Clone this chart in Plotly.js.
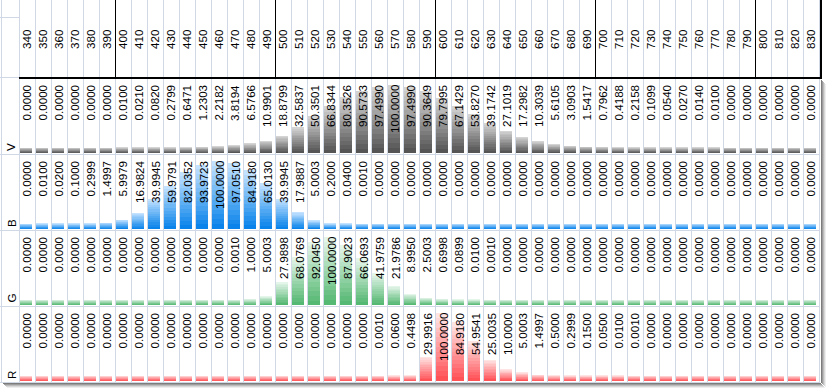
<!DOCTYPE html>
<html><head><meta charset="utf-8">
<script src="https://cdn.plot.ly/plotly-3.0.1.min.js"></script>
<style>html,body{margin:0;padding:0;background:#fff;overflow:hidden}#chart{width:826px;height:388px}</style>
</head><body><div id="chart"></div>
<script>
const wavelengths = [340,350,360,370,380,390,400,410,420,430,440,450,460,470,480,490,500,510,520,530,540,550,560,570,580,590,600,610,620,630,640,650,660,670,680,690,700,710,720,730,740,750,760,770,780,790,800,810,820,830];
const rowLabels = ['V','B','G','R'];
const V = [0,0,0,0,0,0,
  0.0100,0.0210,0.0820,0.2799,0.6471,1.2303,2.2182,3.8194,6.5766,10.9901,
  18.8799,32.5837,50.3501,66.8344,80.3526,90.5733,97.4990,100.0000,97.4990,90.3649,
  79.7995,67.1429,53.8270,39.1742,27.1019,17.2982,10.3039,5.6105,3.0903,1.5417,
  0.7962,0.4188,0.2158,0.1099,0.0540,0.0270,0.0140,0.0100,0,0,
  0,0,0,0];
const B = [0,0.0100,0.0200,0.1000,0.2999,1.4997,
  5.9979,16.9824,39.9945,59.9791,82.0352,93.9723,100.0000,97.0510,84.9180,65.0130,
  39.9945,17.9887,5.0003,0.2000,0.0400,0.0010,0,0,0,0,
  0,0,0,0,0,0,0,0,0,0,
  0,0,0,0,0,0,0,0,0,0,
  0,0,0,0];
const G = [0,0,0,0,0,0,
  0,0,0,0,0,0,0,0.0010,1.0000,5.0003,
  27.9898,68.0769,92.0450,100.0000,87.9023,66.0693,41.9759,21.9786,8.9950,2.5003,
  0.6998,0.0899,0.0100,0.0010,0,0,0,0,0,0,
  0,0,0,0,0,0,0,0,0,0,
  0,0,0,0];
const R = [0,0,0,0,0,0,
  0,0,0,0,0,0,0,0,0,0,
  0,0,0,0,0,0,0.0010,0.0600,0.4498,29.9916,
  100.0000,84.9180,54.9541,25.0035,10.0000,5.0003,1.4997,0.5000,0.2999,0.1500,
  0.0500,0.0100,0.0010,0,0,0,0,0,0,0,
  0,0,0,0];
const series = [V,B,G,R];

const W = 826, H = 388;
const rowTop = [79,155,231,307];
const barBottom = [153,229,305,381];
const PX_PER_UNIT = 0.625, MIN_LEN = 8.8, NSEG = 14;
const barColors = [['#555555','#d4d4d4'],['#0a84ea','#c2e2ff'],['#55b873','#e4f5e9'],['#ff5257','#ffe4e4']];
const FONT = 'Liberation Sans, Arial, sans-serif';

function hex2rgb(h){return [parseInt(h.slice(1,3),16),parseInt(h.slice(3,5),16),parseInt(h.slice(5,7),16)];}
function mix(a,b,t){const A=hex2rgb(a),B2=hex2rgb(b);return 'rgb('+A.map((v,i)=>Math.round(v+(B2[i]-v)*t)).join(',')+')';}
const py = p => 1 - p / H;
const px = p => p / W;
const idx = wavelengths.map((w,i)=>i);
const yName = r => r===0 ? 'y' : 'y'+(r+1);

const traces = [];
series.forEach((vals,r)=>{
  for(let k=0;k<NSEG;k++){
    traces.push({type:'bar', x:idx, y:vals.map(v=>(v+MIN_LEN)/NSEG),
      xaxis:'x', yaxis:yName(r), width:0.75, offset:-0.44,
      marker:{color:mix(barColors[r][0],barColors[r][1],k/(NSEG-1)), line:{width:0}},
      hoverinfo:'skip', showlegend:false});
  }
});

const layout = {
  width:W, height:H, margin:{l:0,r:0,t:0,b:0},
  paper_bgcolor:'#ffffff', plot_bgcolor:'rgba(0,0,0,0)',
  barmode:'stack', bargap:0, showlegend:false,
  xaxis:{range:[-1.71875,49.90625], visible:false, fixedrange:true, anchor:'y'},
  annotations:[], shapes:[]
};
for(let r=0;r<4;r++){
  const key = r===0 ? 'yaxis' : 'yaxis'+(r+1);
  layout[key] = {domain:[py(barBottom[r]), py(rowTop[r])], range:[0,(barBottom[r]-rowTop[r])/PX_PER_UNIT],
    visible:false, fixedrange:true, anchor:'x'};
}

// values
series.forEach((vals,r)=>{
  vals.forEach((v,i)=>{
    layout.annotations.push({xref:'x', yref:yName(r)+' domain', x:i, y:1, xanchor:'center', yanchor:'top',
      xshift:-0.6, yshift:-5, text:v.toFixed(4), textangle:-90, showarrow:false, borderpad:0,
      font:{family:FONT, size:11.6, color:'#000'}});
  });
  layout.annotations.push({xref:'paper', yref:yName(r)+' domain', x:px(11), y:0, xanchor:'center', yanchor:'bottom',
    yshift:1, text:rowLabels[r], textangle:-90, showarrow:false, borderpad:0,
    font:{family:FONT, size:11.6, color:'#000'}});
});
// header
wavelengths.forEach((w,i)=>{
  layout.annotations.push({xref:'x', yref:'paper', x:i, y:py(39), xanchor:'center', yanchor:'middle',
    xshift:-0.6, text:String(w), textangle:-90, showarrow:false, borderpad:0,
    font:{family:FONT, size:11.6, color:'#000'}});
});

const GRID = '#d0d7e5';
// vertical gridlines
for(let k=0;k<=wavelengths.length;k++){
  layout.shapes.push({type:'line', xref:'x', yref:'paper', x0:k-0.5, x1:k-0.5, y0:py(382), y1:1, line:{color:GRID,width:1}});
}
layout.shapes.push({type:'line', xref:'paper', yref:'paper', x0:px(1.5), x1:px(1.5), y0:py(382), y1:1, line:{color:GRID,width:1}});
// horizontal gridlines
[17.5,77.5].forEach(y=>layout.shapes.push({type:'line', xref:'paper', yref:'paper', x0:0, x1:px(19.5), y0:py(y), y1:py(y), line:{color:GRID,width:1}}));
[154.5,230.5,306.5,382.5].forEach(y=>layout.shapes.push({type:'line', xref:'paper', yref:'paper', x0:0, x1:px(820), y0:py(y), y1:py(y), line:{color:GRID,width:1}}));
// header black lines
[6,16,26,36,46].forEach(k=>layout.shapes.push({type:'line', xref:'x', yref:'paper', x0:k-0.5, x1:k-0.5, y0:py(78), y1:1, line:{color:'#000',width:1}}));
layout.shapes.push({type:'line', xref:'paper', yref:'paper', x0:px(821), x1:px(821), y0:py(79), y1:1, line:{color:'#000',width:2}});
layout.shapes.push({type:'line', xref:'paper', yref:'paper', x0:px(19), x1:px(822), y0:py(78), y1:py(78), line:{color:'#000',width:2}});
// drop shadow
const shadeB = ['#7c7c7c','#9c9c9c','#bcbcbc','#d8d8d8','#eeeeee'];
shadeB.forEach((c,j)=>{
  layout.shapes.push({type:'line', xref:'paper', yref:'paper', x0:px(3+j), x1:px(821+j), y0:py(383.5+j), y1:py(383.5+j), line:{color:c,width:1}});
  layout.shapes.push({type:'line', xref:'paper', yref:'paper', x0:px(821.5+j), x1:px(821.5+j), y0:py(383+j), y1:py(80+j), line:{color:c,width:1}});
});

Plotly.newPlot('chart', traces, layout, {displayModeBar:false, staticPlot:true});
</script></body></html>
